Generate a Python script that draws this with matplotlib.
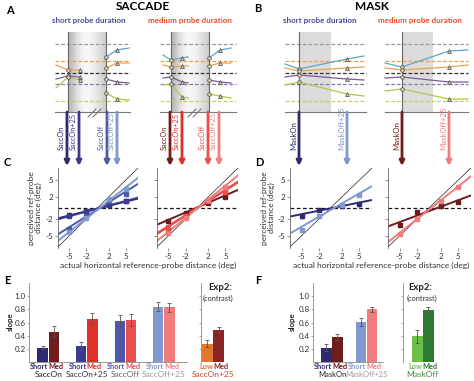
import numpy as np
import matplotlib
matplotlib.use("Agg")
import matplotlib.pyplot as plt
from matplotlib.transforms import blended_transform_factory

plt.rcParams['font.family'] = ['Lato', 'DejaVu Sans']
plt.rcParams['axes.unicode_minus'] = False

W, H = 474, 381

# -------------------------------
# Panels A / B : schematic traces (drawn in page-pixel units)
# -------------------------------
REF_LEVELS = [44, 61, 72.5, 84, 101]
REF_COLORS = ['#9a9a9a', '#f0a04a', '#333333', '#8a7aa8', '#c8d060']
TRACE_COLORS = {'cyan': '#5aa8cc', 'orange': '#f0a04a', 'purple': '#7a5aa0', 'green': '#b0c848'}

# A, short probe
A_SHORT_PRE_X = [56, 68, 80]
A_SHORT_PRE = {'orange': [65, 70, 70], 'purple': [79, 76, 77], 'green': [88, 77, 80]}
A_SHORT_POST_X = [105, 106, 117, 129]
A_SHORT_POST = {'cyan': [60, 57, 50, 48], 'orange': [69, 68, 63, 63],
                'purple': [79, 79, 82, 83], 'green': [92, 93, 99, 100]}
# A, medium probe
A_MED_PRE_X = [163, 171, 182, 188]
A_MED_PRE = {'cyan': [55, 60, 58, 57], 'orange': [65, 67, 66, 66],
             'purple': [78, 77, 82, 83], 'green': [85, 84, 97, 98]}
A_MED_POST_X = [209, 220, 231]
A_MED_POST = {'cyan': [58, 50, 48], 'orange': [66, 63, 63],
              'purple': [80, 82, 83], 'green': [94, 96, 98]}
# B, short probe
B_SHORT_X = [285, 299, 347, 364]
B_SHORT = {'cyan': [64, 69, 59, 56], 'orange': [68, 71, 68, 67],
           'purple': [77, 75, 79, 80], 'green': [85, 82, 94, 96]}
# B, medium probe
B_MED_X = [385, 402, 449, 468]
B_MED = {'cyan': [63, 67, 51, 50], 'orange': [68, 70, 67, 65],
         'purple': [78, 77, 82, 82], 'green': [91, 89, 99, 99]}

SACC_SHORT_EVENTS = [67, 79, 107, 117]
SACC_MED_EVENTS = [170, 182, 208, 219]
MASK_SHORT_EVENTS = [299, 347]
MASK_MED_EVENTS = [402, 449]
SACC_LABELS = ['SaccOn', 'SaccOn+25', 'SaccOff', 'SaccOff+25']
MASK_LABELS = ['MaskOn', 'MaskOff+25']

SHORT_COLORS = ['#2d2a6e', '#3a3a8e', '#4e58a8', '#8099d0']
MED_COLORS = ['#6e1c1c', '#e0302a', '#e85050', '#f07c7c']

# -------------------------------
# Panels C / D : perceived vs actual distance
# -------------------------------
DIST = [-5, -2, 2, 5]
C_SHORT = [[-1.2, -0.5, 0.5, 1.3], [-1.5, -0.6, 0.6, 1.2],
           [-3.7, -1.5, 1.3, 2.6], [-4.4, -1.8, 1.6, 3.5]]
C_SHORT_ERR = [0.3, 0.3, 0.5, 0.6]
C_MED = [[-2.4, -0.9, 0.9, 2.0], [-3.8, -1.5, 1.2, 2.8],
         [-3.5, -1.4, 1.2, 2.9], [-4.5, -1.8, 1.5, 3.8]]
C_MED_ERR = [0.3, 0.4, 0.5, 0.6]
D_SHORT = [[-1.5, -0.35, 0.35, 0.65], [-3.9, -1.4, 0.5, 2.3]]
D_SHORT_ERR = [0.4, 0.3]
D_MED = [[-3.0, -0.8, 0.35, 1.1], [-4.6, -1.9, 1.3, 3.8]]
D_MED_ERR = [0.4, 0.3]

# -------------------------------
# Panels E / F : slopes
# -------------------------------
E_GROUPS = ['SaccOn', 'SaccOn+25', 'SaccOff', 'SaccOff+25']
E_SHORT = [0.22, 0.24, 0.62, 0.84]
E_SHORT_ERR = [0.03, 0.06, 0.10, 0.07]
E_MED = [0.46, 0.66, 0.64, 0.83]
E_MED_ERR = [0.08, 0.09, 0.09, 0.07]
E_EXP2 = [0.28, 0.49]
E_EXP2_ERR = [0.05, 0.04]

F_GROUPS = ['MaskOn', 'MaskOff+25']
F_SHORT = [0.22, 0.61]
F_SHORT_ERR = [0.06, 0.06]
F_MED = [0.38, 0.80]
F_MED_ERR = [0.04, 0.04]
F_EXP2 = [0.39, 0.79]
F_EXP2_ERR = [0.10, 0.04]

fig = plt.figure(figsize=(W / 100, H / 100), dpi=100)


def px_axes(x0, y0, x1, y1):
    return fig.add_axes([x0 / W, 1 - y1 / H, (x1 - x0) / W, (y1 - y0) / H])


def ftext(x, y, s, **kw):
    fig.text(x / W, 1 - y / H, s, **kw)


# ===============================
# overlay for the schematics
# ===============================
ov = fig.add_axes([0, 0, 1, 1])
LINE_Y = 112
BOX_TOP = 32


def schematic(span, vlines, box, gradient, segments, circ, tri):
    x0, x1 = span
    if gradient:
        prof = np.array([[0.72, 0.82, 0.91, 0.96, 0.97, 0.95, 0.91, 0.86, 0.80]])
        ov.imshow(prof, extent=(box[0], box[1], LINE_Y, BOX_TOP), aspect='auto',
                  cmap='gray', vmin=0, vmax=1, interpolation='bicubic', zorder=0)
    else:
        ov.fill_between(box, LINE_Y, BOX_TOP, color='#dcdcdc', lw=0, zorder=0)
    for lev, col in zip(REF_LEVELS, REF_COLORS):
        ov.plot([x0, x1], [lev, lev], ls=(0, (3, 1.6)), color=col, lw=0.9, zorder=1)
    ov.plot([x0, x1], [LINE_Y, LINE_Y], color='#777777', lw=0.8, zorder=1)
    for v in vlines:
        ov.plot([v, v], [BOX_TOP, LINE_Y], color='#666666', lw=0.8, zorder=1)
    for xs, traces in segments:
        for name, ys in traces.items():
            ov.plot(xs, ys, color=TRACE_COLORS[name], lw=0.9, zorder=2)
            for x, y in zip(xs, ys):
                if x in circ:
                    ov.plot(x, y, 'o', ms=2.6, mfc='#d8d4a8', mec='#444444', mew=0.5, zorder=3)
                elif x in tri:
                    ov.plot(x, y, '^', ms=2.8, mfc='#d8d4a8', mec='#444444', mew=0.5, zorder=3)


def arrows(xs, colors, labels, fs):
    for x, c, lab in zip(xs, colors, labels):
        ov.annotate('', xy=(x, 166), xytext=(x, LINE_Y),
                    arrowprops=dict(arrowstyle='-|>', color=c, lw=2.0,
                                    mutation_scale=7, shrinkA=0, shrinkB=0))
        ov.text(x - 2.2, 150, lab, rotation=90, ha='right', va='bottom',
                color=c, fontsize=fs)


schematic((55, 130), [68, 106], (68, 107), True,
          [(A_SHORT_PRE_X, A_SHORT_PRE), (A_SHORT_POST_X, A_SHORT_POST)],
          circ=[68, 106], tri=[80, 117])
schematic((160, 236), [171, 209], (171, 210), True,
          [(A_MED_PRE_X, A_MED_PRE), (A_MED_POST_X, A_MED_POST)],
          circ=[171, 209], tri=[182, 220])
schematic((285, 366), [299], (299, 331), False, [(B_SHORT_X, B_SHORT)],
          circ=[299], tri=[347])
schematic((385, 468), [402], (402, 433), False, [(B_MED_X, B_MED)],
          circ=[402], tri=[449])

for bx in (88, 188):
    ov.plot([bx, bx + 8], [117, 109], color='#666666', lw=0.7)
    ov.plot([bx + 5, bx + 13], [117, 109], color='#666666', lw=0.7)

arrows(SACC_SHORT_EVENTS, SHORT_COLORS, SACC_LABELS, 5.2)
arrows(SACC_MED_EVENTS, MED_COLORS, SACC_LABELS, 5.2)
arrows(MASK_SHORT_EVENTS, [SHORT_COLORS[0], SHORT_COLORS[3]], MASK_LABELS, 5.6)
arrows(MASK_MED_EVENTS, [MED_COLORS[0], MED_COLORS[3]], MASK_LABELS, 5.6)

ov.set_xlim(0, W)
ov.set_ylim(H, 0)
ov.axis('off')

# titles / panel letters
for lab, x, y in [('A', 10, 10), ('B', 258, 9), ('C', 7, 163), ('D', 259, 163),
                  ('E', 7, 280), ('F', 258, 280)]:
    ftext(x, y, lab, fontsize=8, fontweight='bold', ha='center', va='center')
ftext(143, 7, 'SACCADE', fontsize=8.5, fontweight='bold', ha='center', va='center')
ftext(372, 7, 'MASK', fontsize=8.5, fontweight='bold', ha='center', va='center')
for x in (89, 320):
    ftext(x, 20, 'short probe duration', fontsize=5.8, fontweight='bold',
          color='#4a4a98', ha='center', va='center')
for x in (190, 420):
    ftext(x, 20, 'medium probe duration', fontsize=5.8, fontweight='bold',
          color='#e8502a', ha='center', va='center')


# ===============================
# C / D
# ===============================
def fit_panel(ax, series, errs, colors, pivot, show_labels):
    ax.axhline(0, ls=(0, (3, 2)), color='#111111', lw=0.9, zorder=1)
    ax.axline((0, 0), slope=1, color='#222222', lw=0.5, zorder=1)
    for ys, e, c in zip(series, errs, colors):
        m = np.polyfit(DIST, ys, 1)[0]
        ax.axline(pivot, slope=m, color=c, lw=1.4, zorder=2)
        ax.errorbar(DIST, ys, yerr=e, fmt='s', ms=2.2, color=c, elinewidth=0.8,
                    capsize=0, zorder=3)
    ax.set_xlim(-7, 7.2)
    ax.set_ylim(-7.2, 7.2)
    ax.set_xticks(DIST)
    ax.set_yticks([-5, -2, 2, 5])
    for s in ('top', 'right', 'bottom'):
        ax.spines[s].set_visible(False)
    ax.spines['left'].set_color('#666666')
    ax.spines['left'].set_linewidth(0.6)
    ax.tick_params(length=2, width=0.5, color='#666666', labelsize=5.8, pad=1.5,
                   labelcolor='#333333')
    if not show_labels:
        ax.set_yticklabels([])


fit_panel(px_axes(58, 168, 138, 248), C_SHORT, C_SHORT_ERR, SHORT_COLORS, (0.4, 0), True)
fit_panel(px_axes(157, 168, 238, 248), C_MED, C_MED_ERR, MED_COLORS, (0.5, 0.3), False)
fit_panel(px_axes(290, 168, 372, 248), D_SHORT, D_SHORT_ERR,
          [SHORT_COLORS[0], SHORT_COLORS[3]], (0.8, 0.1), True)
fit_panel(px_axes(388, 168, 471, 248), D_MED, D_MED_ERR,
          [MED_COLORS[0], MED_COLORS[3]], (-0.6, -0.8), False)

for x in (35, 268):
    ftext(x, 208, 'perceived ref-probe\ndistance (deg)', fontsize=6, rotation=90,
          ha='center', va='center', color='#333333', linespacing=1.05)
ftext(148, 265, 'actual horizontal reference-probe distance (deg)', fontsize=6,
      ha='center', va='center', color='#333333')
ftext(381, 265, 'actual horizontal reference-probe distance (deg)', fontsize=6,
      ha='center', va='center', color='#333333')


# ===============================
# E / F
# ===============================
def style_bar_axes(ax, labels):
    ax.set_ylim(0, 1.2)
    ax.set_yticks([0.2, 0.4, 0.6, 0.8, 1.0])
    ax.set_xticks([])
    for s in ('top', 'right'):
        ax.spines[s].set_visible(False)
    for s in ('left', 'bottom'):
        ax.spines[s].set_color('#888888')
        ax.spines[s].set_linewidth(0.6)
    ax.tick_params(length=1.5, width=0.5, color='#888888', labelsize=5.8, pad=1,
                   labelcolor='#333333')
    if not labels:
        ax.set_yticklabels([])


def bar_group(ax, centers, a_vals, a_err, a_cols, b_vals, b_err, b_cols,
              a_name, groups, group_cols, bw, off, gfs=6.0):
    centers = np.asarray(centers, dtype=float)
    ax.bar(centers - off, a_vals, bw, color=a_cols, yerr=a_err,
           error_kw=dict(ecolor='#555555', elinewidth=0.6, capsize=1.5, capthick=0.6))
    ax.bar(centers + off, b_vals, bw, color=b_cols, yerr=b_err,
           error_kw=dict(ecolor='#555555', elinewidth=0.6, capsize=1.5, capthick=0.6))
    tr = blended_transform_factory(ax.transData, ax.transAxes)
    for c, ac, bc, g, gc in zip(centers, a_cols, b_cols, groups, group_cols):
        ax.text(c, -0.06, a_name, transform=tr, ha='right', va='center',
                fontsize=5.3, fontweight='bold', color=ac)
        ax.text(c, -0.06, 'Med', transform=tr, ha='left', va='center',
                fontsize=5.3, fontweight='bold', color=bc)
        ax.text(c, -0.16, g, transform=tr, ha='center', va='center',
                fontsize=gfs, color=gc, clip_on=False)


GX = np.arange(len(E_GROUPS))
axE = px_axes(29, 283, 187, 362)
bar_group(axE, GX, E_SHORT, E_SHORT_ERR, SHORT_COLORS, E_MED, E_MED_ERR, MED_COLORS,
          'Short', E_GROUPS, ['#222222', '#333333', '#666666', '#9a9a9a'], 0.27, 0.145)
axE.set_xlim(-0.5, 3.6)
style_bar_axes(axE, True)

axE2 = px_axes(201, 283, 241, 362)
bar_group(axE2, [0], [E_EXP2[0]], [E_EXP2_ERR[0]], ['#e07830'],
          [E_EXP2[1]], [E_EXP2_ERR[1]], ['#8b2525'], 'Low', ['SaccOn+25'], ['#c0482a'],
          0.27, 0.145)
axE2.set_xlim(-0.31, 0.72)
style_bar_axes(axE2, False)
axE2.spines['bottom'].set_visible(False)

axF = px_axes(313, 283, 383, 362)
bar_group(axF, [0.05, 1], F_SHORT, F_SHORT_ERR, [SHORT_COLORS[0], SHORT_COLORS[3]],
          F_MED, F_MED_ERR, [MED_COLORS[0], MED_COLORS[3]], 'Short', F_GROUPS,
          ['#222222', '#9a9a9a'], 0.28, 0.15, gfs=5.5)
axF.set_xlim(-0.47, 1.45)
style_bar_axes(axF, True)

axF2 = px_axes(403, 283, 441, 362)
bar_group(axF2, [0], [F_EXP2[0]], [F_EXP2_ERR[0]], ['#6cc04a'],
          [F_EXP2[1]], [F_EXP2_ERR[1]], ['#2e7a32'], 'Low', ['MaskOff'], ['#3d8a35'],
          0.3, 0.155)
axF2.set_xlim(-0.54, 0.5)
style_bar_axes(axF2, False)
axF2.spines['bottom'].set_visible(False)

for x in (10, 292):
    ftext(x, 322, 'slope', fontsize=5.8, fontweight='bold', rotation=90,
          ha='center', va='center', color='#222222')
for x in (208, 408):
    ftext(x, 288, 'Exp2:', fontsize=6.8, fontweight='bold', ha='left', va='center',
          color='#222222')
ftext(218, 298, '(contrast)', fontsize=5.3, ha='center', va='center', color='#333333')
ftext(422, 298, '(contrast)', fontsize=5.3, ha='center', va='center', color='#333333')

fig.savefig('out.png', dpi=100)
